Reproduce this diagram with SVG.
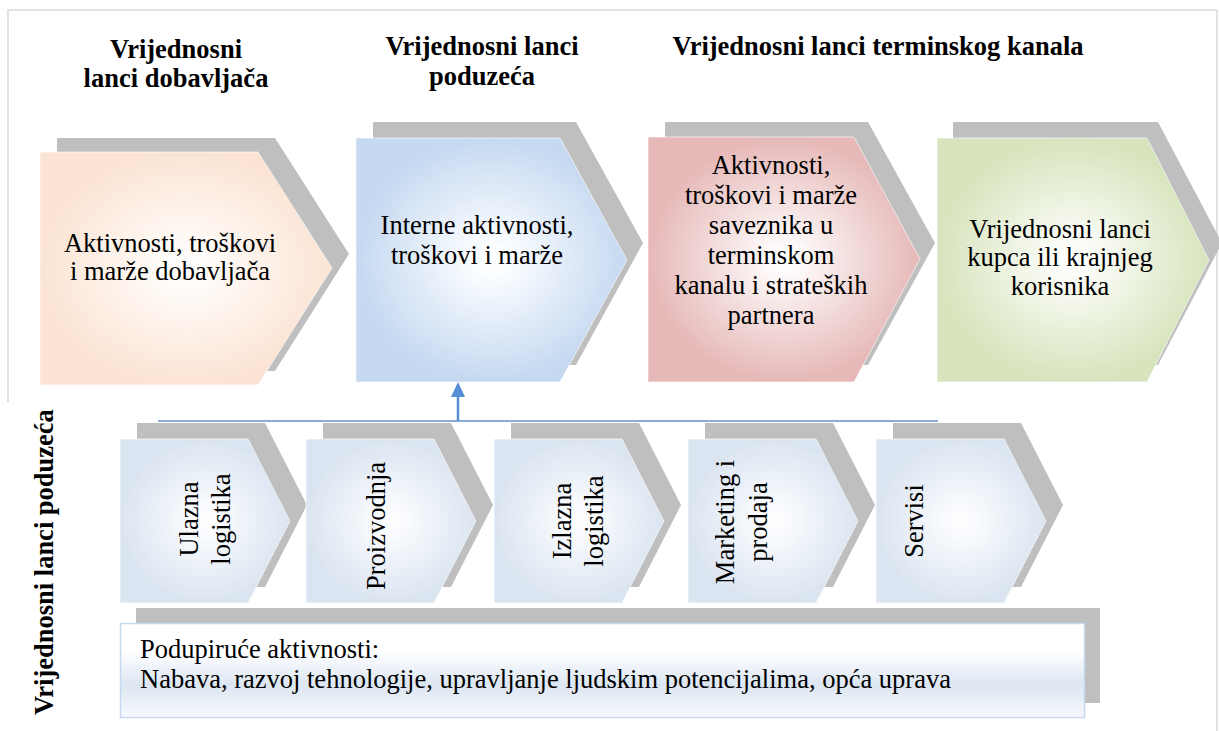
<svg xmlns="http://www.w3.org/2000/svg" width="1219" height="731" viewBox="0 0 1219 731">
<defs>
<style>
.t{font-family:"Liberation Serif","Times New Roman",serif;font-size:26.5px;fill:#000;text-anchor:middle}
.tl{font-family:"Liberation Serif","Times New Roman",serif;font-size:26.5px;fill:#000}
.b{font-weight:bold}
.sh{fill:#bfbfbf}
.fr{stroke:#ffffff;stroke-opacity:0.6;stroke-width:1}
</style>
<radialGradient id="gO" cx="0.5" cy="0.5" r="0.55"><stop offset="0" stop-color="#ffffff"/><stop offset="0.12" stop-color="#fffdfb"/><stop offset="0.9" stop-color="#fbe4d4"/></radialGradient>
<radialGradient id="gB" cx="0.5" cy="0.5" r="0.55"><stop offset="0" stop-color="#ffffff"/><stop offset="0.12" stop-color="#fbfdff"/><stop offset="0.9" stop-color="#c6d9f1"/></radialGradient>
<radialGradient id="gR" cx="0.5" cy="0.5" r="0.55"><stop offset="0" stop-color="#ffffff"/><stop offset="0.12" stop-color="#fdf9f9"/><stop offset="0.9" stop-color="#e6b9b8"/></radialGradient>
<radialGradient id="gG" cx="0.5" cy="0.5" r="0.55"><stop offset="0" stop-color="#ffffff"/><stop offset="0.12" stop-color="#fcfdf9"/><stop offset="0.9" stop-color="#d7e4bd"/></radialGradient>
<radialGradient id="gS" cx="0.5" cy="0.5" r="0.55"><stop offset="0" stop-color="#ffffff"/><stop offset="0.12" stop-color="#fbfcfe"/><stop offset="0.9" stop-color="#dbe5f1"/></radialGradient>
<linearGradient id="gL" x1="0" y1="0" x2="0" y2="1"><stop offset="0" stop-color="#ffffff"/><stop offset="0.3" stop-color="#ffffff"/><stop offset="0.65" stop-color="#dce6f2"/><stop offset="1" stop-color="#f7f9fd"/></linearGradient>
</defs>
<rect width="1219" height="731" fill="#ffffff"/>
<g id="frame" fill="none" stroke="#d9d9d9" stroke-width="1.5">
<path d="M8 402 V10 H1217 V731"/>
</g>
<g id="headings">
<text class="t b" x="176" y="58">Vrijednosni</text>
<text class="t b" x="176" y="87">lanci dobavljača</text>
<text class="t b" x="482" y="55">Vrijednosni lanci</text>
<text class="t b" x="482" y="85">poduzeća</text>
<text class="t b" x="878" y="55">Vrijednosni lanci terminskog kanala</text>
<text class="t b" transform="translate(53 562) rotate(-90)">Vrijednosni lanci poduzeća</text>
</g>
<g id="dobavljac">
<polygon class="sh" points="57,138 275,138 349,254 275,371 57,371"/>
<polygon class="fr" fill="url(#gO)" points="40,152 258,152 332,268 258,385 40,385"/>
<text class="t" x="170" y="252">Aktivnosti, troškovi</text>
<text class="t" x="170" y="280">i marže dobavljača</text>
</g>
<g id="poduzece">
<polygon class="sh" points="373,122 576,122 643,243 576,365 373,365"/>
<polygon class="fr" fill="url(#gB)" points="356,138 560,138 627,260 560,382 356,382"/>
<text class="t" x="477" y="234">Interne aktivnosti,</text>
<text class="t" x="477" y="264">troškovi i marže</text>
</g>
<g id="terminski">
<polygon class="sh" points="665,122 868,122 935,243 868,365 665,365"/>
<polygon class="fr" fill="url(#gR)" points="648,137 854,137 920,259 854,382 648,382"/>
<text class="t" x="771" y="174">Aktivnosti,</text>
<text class="t" x="771" y="204">troškovi i marže</text>
<text class="t" x="771" y="234">saveznika u</text>
<text class="t" x="771" y="264">terminskom</text>
<text class="t" x="771" y="294">kanalu i strateških</text>
<text class="t" x="771" y="324">partnera</text>
</g>
<g id="kupac">
<polygon class="sh" points="953,122 1158,122 1222,243 1158,365 953,365"/>
<polygon class="fr" fill="url(#gG)" points="937,138 1147,138 1209,260 1147,382 937,382"/>
<text class="t" x="1060" y="238">Vrijednosni lanci</text>
<text class="t" x="1060" y="266">kupca ili krajnjeg</text>
<text class="t" x="1060" y="295">korisnika</text>
</g>
<g id="connectors">
<line x1="158" y1="421" x2="938" y2="421" stroke="#8eaad8" stroke-width="2"/>
<line x1="458" y1="421" x2="458" y2="396" stroke="#558ed5" stroke-width="2.5"/>
<polygon points="451,397 465,397 458,382" fill="#558ed5"/>
</g>
<g id="ulazna">
<polygon class="sh" points="137,423 265,423 307,505 265,587 137,587"/>
<polygon class="fr" fill="url(#gS)" points="120,439 248,439 290,521 248,603 120,603"/>
<text class="t" transform="translate(198 519) rotate(-90)">Ulazna</text>
<text class="t" transform="translate(230 519) rotate(-90)">logistika</text>
</g>
<g id="proizvodnja">
<polygon class="sh" points="323,423 451,423 493,505 451,587 323,587"/>
<polygon class="fr" fill="url(#gS)" points="306,439 434,439 476,521 434,603 306,603"/>
<text class="t" transform="translate(385 526) rotate(-90)">Proizvodnja</text>
</g>
<g id="izlazna">
<polygon class="sh" points="511,423 639,423 681,505 639,587 511,587"/>
<polygon class="fr" fill="url(#gS)" points="494,439 622,439 664,521 622,603 494,603"/>
<text class="t" transform="translate(571 521) rotate(-90)">Izlazna</text>
<text class="t" transform="translate(603 521) rotate(-90)">logistika</text>
</g>
<g id="marketing">
<polygon class="sh" points="705,423 833,423 875,505 833,587 705,587"/>
<polygon class="fr" fill="url(#gS)" points="688,439 816,439 858,521 816,603 688,603"/>
<text class="t" transform="translate(734 522) rotate(-90)">Marketing i</text>
<text class="t" transform="translate(767 522) rotate(-90)">prodaja</text>
</g>
<g id="servisi">
<polygon class="sh" points="893,423 1021,423 1063,505 1021,587 893,587"/>
<polygon class="fr" fill="url(#gS)" points="876,439 1004,439 1046,521 1004,603 876,603"/>
<text class="t" transform="translate(923 521) rotate(-90)">Servisi</text>
</g>
<g id="podupiruce">
<rect class="sh" x="136" y="608" width="964" height="95"/>
<rect x="120.5" y="623.5" width="964" height="94" fill="url(#gL)" stroke="#c6d9f1" stroke-width="1.5"/>
<text class="tl" x="140" y="658">Podupiruće aktivnosti:</text>
<text class="tl" x="140" y="688">Nabava, razvoj tehnologije, upravljanje ljudskim potencijalima, opća uprava</text>
</g>
</svg>
